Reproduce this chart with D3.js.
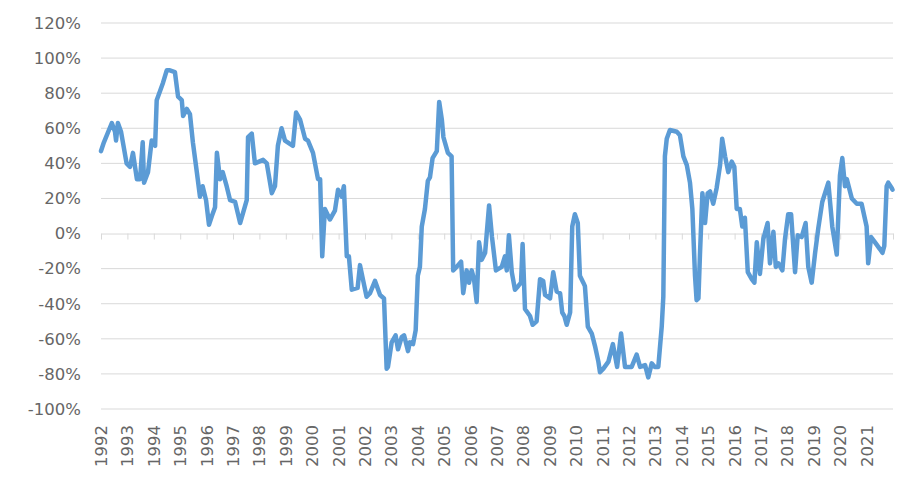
<!DOCTYPE html>
<html>
<head>
<meta charset="utf-8">
<script src="https://cdn.jsdelivr.net/npm/d3@7"></script>
<style>
  html, body { margin: 0; padding: 0; background: #fff; }
  text { font-family: 'DejaVu Sans', sans-serif; }
</style>
</head>
<body>
<div id="chart"></div>
<script>
// decimal year of each reading
const dates = [
  1992.00, 1992.11, 1992.41, 1992.53, 1992.57, 1992.64, 1992.76, 1992.97, 1993.10, 1993.21,
  1993.36, 1993.48, 1993.58, 1993.63, 1993.78, 1993.92, 1994.05, 1994.11, 1994.35, 1994.49,
  1994.61, 1994.80, 1994.92, 1995.06, 1995.11, 1995.25, 1995.37, 1995.48, 1995.63, 1995.75,
  1995.85, 1995.98, 1996.09, 1996.20, 1996.32, 1996.39, 1996.51, 1996.61, 1996.76, 1996.89,
  1997.08, 1997.27, 1997.52, 1997.57, 1997.71, 1997.83, 1998.14, 1998.28, 1998.47, 1998.59,
  1998.70, 1998.84, 1998.97, 1999.27, 1999.39, 1999.54, 1999.73, 1999.84, 2000.03, 2000.22,
  2000.30, 2000.38, 2000.48, 2000.67, 2000.86, 2000.98, 2001.12, 2001.20, 2001.31, 2001.39,
  2001.50, 2001.72, 2001.81, 2001.92, 2002.06, 2002.19, 2002.38, 2002.57, 2002.72, 2002.82,
  2002.87, 2003.01, 2003.16, 2003.25, 2003.39, 2003.48, 2003.63, 2003.70, 2003.82, 2003.92,
  2004.00, 2004.08, 2004.15, 2004.27, 2004.38, 2004.46, 2004.56, 2004.72, 2004.81, 2004.91,
  2004.97, 2005.14, 2005.28, 2005.34, 2005.47, 2005.64, 2005.72, 2005.85, 2005.94, 2006.04,
  2006.13, 2006.23, 2006.32, 2006.42, 2006.55, 2006.70, 2006.81, 2006.96, 2007.18, 2007.30,
  2007.37, 2007.45, 2007.56, 2007.68, 2007.80, 2007.91, 2007.97, 2008.06, 2008.25, 2008.35,
  2008.50, 2008.63, 2008.75, 2008.82, 2009.01, 2009.13, 2009.26, 2009.39, 2009.47, 2009.55,
  2009.64, 2009.77, 2009.85, 2009.95, 2010.06, 2010.14, 2010.27, 2010.33, 2010.44, 2010.59,
  2010.71, 2010.84, 2010.90, 2011.03, 2011.22, 2011.39, 2011.55, 2011.70, 2011.85, 2011.97,
  2012.10, 2012.29, 2012.42, 2012.61, 2012.73, 2012.86, 2012.98, 2013.11, 2013.24, 2013.30,
  2013.36, 2013.43, 2013.55, 2013.81, 2013.93, 2014.06, 2014.19, 2014.31, 2014.40, 2014.50,
  2014.56, 2014.63, 2014.69, 2014.78, 2014.88, 2014.98, 2015.07, 2015.19, 2015.32, 2015.45,
  2015.53, 2015.64, 2015.76, 2015.89, 2015.99, 2016.08, 2016.20, 2016.29, 2016.39, 2016.50,
  2016.65, 2016.75, 2016.84, 2016.96, 2017.09, 2017.25, 2017.34, 2017.47, 2017.56, 2017.66,
  2017.81, 2017.91, 2018.03, 2018.14, 2018.29, 2018.39, 2018.54, 2018.69, 2018.79, 2018.92,
  2019.05, 2019.17, 2019.32, 2019.55, 2019.70, 2019.87, 2019.99, 2020.08, 2020.18, 2020.25,
  2020.44, 2020.63, 2020.81, 2021.00, 2021.06, 2021.17, 2021.32, 2021.51, 2021.60, 2021.67,
  2021.76, 2021.82, 2021.95, 2021.98
]

// value in percent
const values = [
   47,  52,  63,  58,  53,  63,  58,  40,  38,  46,
   31,  31,  52,  29,  35,  53,  50,  76,  86,  93,
   93,  92,  78,  76,  67,  71,  68,  52,  35,  21,
   27,  19,   5,  10,  15,  46,  31,  35,  27,  19,
   18,   6,  19,  55,  57,  40,  42,  40,  23,  27,
   50,  60,  53,  50,  69,  65,  54,  53,  46,  31,
   31, -13,  14,   8,  13,  25,  21,  27, -13, -13,
  -32, -31, -18, -26, -36, -34, -27, -35, -37, -77,
  -76, -62, -58, -66, -59, -58, -67, -62, -63, -55,
  -24, -19,   4,  14,  30,  32,  43,  47,  75,  65,
   55,  46,  44, -21, -19, -16, -34, -21, -28, -21,
  -26, -39,  -5, -15, -11,  16,  -2, -21, -19, -13,
  -21,  -1, -22, -32, -30, -28,  -6, -43, -47, -52,
  -50, -26, -27, -35, -37, -22, -33, -34, -45, -47,
  -52, -45,   4,  11,   6, -24, -28, -30, -53, -57,
  -64, -73, -79, -77, -73, -63, -76, -57, -76, -76,
  -76, -69, -76, -75, -82, -74, -76, -76, -53, -36,
   44,  54,  59,  58,  56,  44,  39,  29,  14, -24,
  -38, -37, -11,  23,   6,  23,  24,  17,  26,  39,
   54,  44,  35,  41,  38,  14,  14,   4,   9, -22,
  -26, -28,  -5, -23,  -3,   6, -17,   1, -19, -17,
  -21,  -3,  11,  11, -22,  -1,  -2,   6, -19, -28,
  -11,   3,  18,  29,   4, -12,  33,  43,  27,  31,
   20,  17,  17,   4, -17,  -2,  -5,  -9, -11,  -7,
   27,  29,  26,  25
]

const yearLabels = [
  '1992', '1993', '1994', '1995', '1996', '1997', '1998', '1999', '2000', '2001',
  '2002', '2003', '2004', '2005', '2006', '2007', '2008', '2009', '2010', '2011',
  '2012', '2013', '2014', '2015', '2016', '2017', '2018', '2019', '2020', '2021'
]

const yTicks = [-100, -80, -60, -40, -20, 0, 20, 40, 60, 80, 100, 120]

const data = dates.map((d, i) => ({ date: d, value: values[i] }))

const W = 913
const H = 493
const margin = { left: 101, right: 20, top: 23, bottom: 84 }

const svg = d3.select('#chart').append('svg')
  .attr('width', W)
  .attr('height', H)

const x = d3.scaleLinear()
  .domain([1992, 2022])
  .range([margin.left, W - margin.right])

const y = d3.scaleLinear()
  .domain([-100, 120])
  .range([H - margin.bottom, margin.top])

// gridlines
svg.append('g')
  .selectAll('line')
  .data(yTicks.filter(t => t !== 0))
  .enter().append('line')
    .attr('x1', x.range()[0])
    .attr('x2', x.range()[1])
    .attr('y1', d => y(d))
    .attr('y2', d => y(d))
    .attr('stroke', '#d9d9d9')
    .attr('stroke-width', 1)

// y axis labels
const yAxis = d3.axisLeft(y)
  .tickValues(yTicks)
  .tickSize(0)
  .tickPadding(20)
  .tickFormat(d => d + '%')

svg.append('g')
  .attr('transform', `translate(${margin.left}, 0)`)
  .call(yAxis)
  .call(g => g.select('.domain').remove())
  .call(g => g.selectAll('text')
    .attr('font-size', '16.5px')
    .attr('font-family', 'DejaVu Sans, sans-serif')
    .attr('fill', '#666666'))

// x axis sits on the 0% line
const xAxis = d3.axisBottom(x)
  .tickValues(d3.range(1992, 2023))
  .tickSize(6)
  .tickSizeOuter(0)
  .tickFormat('')

svg.append('g')
  .attr('transform', `translate(0, ${y(0)})`)
  .call(xAxis)
  .call(g => g.select('.domain').attr('stroke', '#d9d9d9'))
  .call(g => g.selectAll('.tick line').attr('stroke', '#d9d9d9'))

// rotated year labels along the bottom
svg.append('g')
  .selectAll('text')
  .data(yearLabels)
  .enter().append('text')
    .attr('transform', d => `translate(${x(+d) + 6}, ${y(-100) + 16}) rotate(-90)`)
    .attr('text-anchor', 'end')
    .attr('font-size', '16.5px')
    .attr('fill', '#666666')
    .text(d => d)

// the series
const line = d3.line()
  .x(d => x(d.date))
  .y(d => y(d.value))

svg.append('path')
  .datum(data)
  .attr('fill', 'none')
  .attr('stroke', '#5b9bd5')
  .attr('stroke-width', 4.5)
  .attr('stroke-linejoin', 'round')
  .attr('stroke-linecap', 'round')
  .attr('d', line)
</script>
</body>
</html>
